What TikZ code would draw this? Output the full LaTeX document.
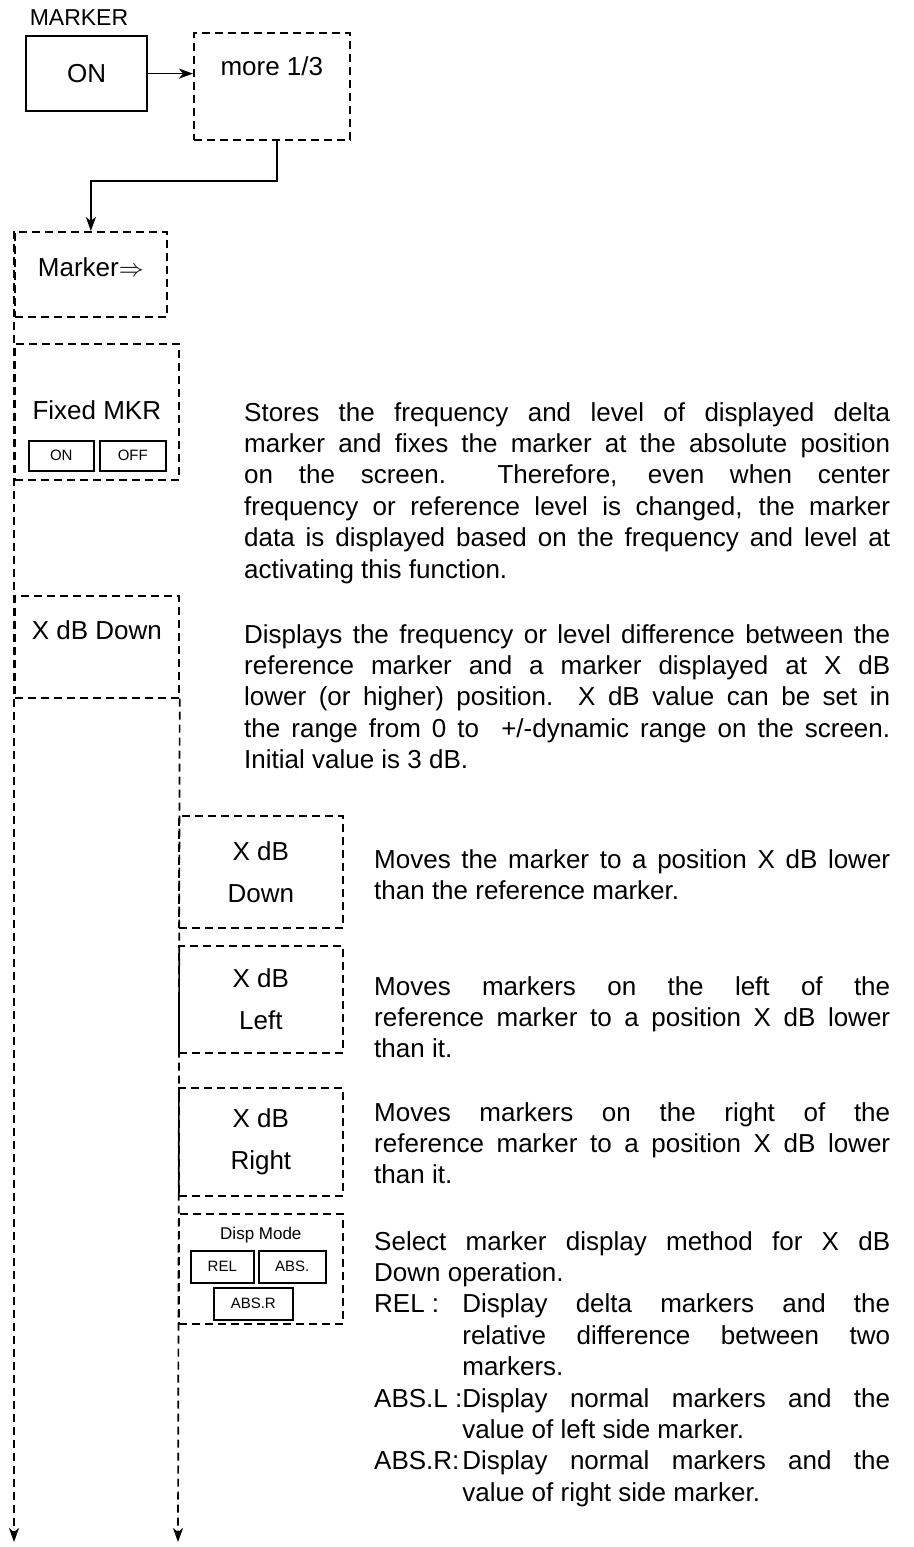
\documentclass[tikz,border=0pt]{standalone}
\usepackage{fontspec}
\setmainfont{Liberation Sans}
\usetikzlibrary{positioning}
\usetikzlibrary{arrows.meta}
\usetikzlibrary{calc}

\newlength{\hangw}

\begin{document}
\begin{tikzpicture}[x=1pt, y=-1pt,
    solidbox/.style={draw=black, line width=2.2pt, rectangle, inner sep=0pt, anchor=north west, font=\fontsize{26}{31}\selectfont},
    dashbox/.style={draw=black, line width=1.7pt, dash pattern=on 8pt off 5pt, rectangle, inner sep=0pt, anchor=north west, align=center, font=\fontsize{26}{42}\selectfont},
    keybox/.style={draw=black, line width=1.6pt, rectangle, inner sep=0pt, anchor=north west, font=\fontsize{15}{15}\selectfont},
    lbl/.style={inner sep=0pt, font=\fontsize{26}{31}\selectfont},
    smalllbl/.style={inner sep=0pt, font=\fontsize{17}{17}\selectfont},
    desc/.style={inner sep=0pt, anchor=base west, align=justify, font=\fontsize{26}{31.4}\selectfont},
    flow/.style={line width=1.7pt, -{Stealth[length=14pt, width=10pt, inset=4pt]}},
    dflow/.style={flow, dash pattern=on 8pt off 5pt}]

  \useasboundingbox (0,0) rectangle (913,1547);

  % MARKER key and first soft key
  \node[lbl, font=\fontsize{23}{23}\selectfont] (title) at (79,18) {MARKER};
  \node[solidbox, minimum width=121pt, minimum height=75pt] (on) at (25,35) {ON};
  \node[dashbox, minimum width=156pt, minimum height=107pt] (more) at (193,32) {};
  \node[lbl] (moretxt) at ([yshift=-34pt]more.north) {more 1/3};

  % Main menu column
  \node[dashbox, minimum width=152pt, minimum height=85pt] (mkr) at (14,231) {};
  \node[lbl] (mkrtxt) at ([yshift=-36pt]mkr.north) {Marker$\Rightarrow$};

  \node[dashbox, minimum width=164pt, minimum height=136pt] (fixed) at (14,343) {};
  \node[lbl] (fixedtxt) at ([yshift=-67pt]fixed.north) {Fixed MKR};
  \node[keybox, minimum width=65pt, minimum height=30pt] (fon) at (28,440) {ON};
  \node[keybox, minimum width=66pt, minimum height=30pt] (foff) at (99,440) {OFF};

  \node[dashbox, minimum width=164pt, minimum height=102pt] (xdb) at (14,595) {};
  \node[lbl] (xdbtxt) at ([yshift=-35pt]xdb.north) {X dB Down};

  % Sub menu column
  \node[dashbox, minimum width=164pt, minimum height=112pt] (sdown) at (178,815) {X dB\\Down};
  \node[dashbox, minimum width=164pt, minimum height=107pt] (sleft) at (178,945) {X dB\\Left};
  \node[dashbox, minimum width=164pt, minimum height=108pt] (sright) at (178,1087) {X dB\\Right};

  \node[dashbox, minimum width=164pt, minimum height=110pt] (disp) at (178,1213) {};
  \node[smalllbl] (disptxt) at ([yshift=-22pt]disp.north) {Disp Mode};
  \node[keybox, minimum width=63pt, minimum height=32pt] (rel) at (190,1250) {REL};
  \node[keybox, minimum width=67pt, minimum height=32pt] (abs) at (258,1250) {ABS.};
  \node[keybox, minimum width=79pt, minimum height=32pt] (absr) at (213,1287) {ABS.R};

  % Free ends of the two columns
  \coordinate (endl) at (14,1542);
  \coordinate (endr) at (178,1542);

  % Connectors
  \draw[flow] (on.east) -- (on.east -| more.west);
  \draw[flow] ([xshift=5pt]more.south) -- ++(0,40) -| (mkr.north);
  \draw[dflow] (mkr.north west) -- (endl);
  \draw[dflow] (xdb.south east) -- (endr);

  % Descriptions
  \node[desc, text width=646pt] (dfixed) at (244,421) {Stores the frequency and level of displayed delta\linebreak
    marker and fixes the marker at the absolute position\linebreak
    on the screen.\ \ Therefore, even when center\linebreak
    frequency or reference level is changed, the marker\linebreak
    data is displayed based on the frequency and level at\linebreak
    activating this function.};

  \node[desc, text width=646pt] (dxdb) at (244,643) {Displays the frequency or level difference between the\linebreak
    reference marker and a marker displayed at X dB\linebreak
    lower (or higher) position.\ \ X dB value can be set in\linebreak
    the range from 0 to \ +/-dynamic range on the screen.\linebreak
    Initial value is 3 dB.};

  \node[desc, text width=516pt] (ddown) at (374,868) {Moves the marker to a position X dB lower\linebreak
    than the reference marker.};

  \node[desc, text width=516pt] (dleft) at (374,995) {Moves markers on the left of the\linebreak
    reference marker to a position X dB lower\linebreak
    than it.};

  \node[desc, text width=516pt] (dright) at (374,1121) {Moves markers on the right of the\linebreak
    reference marker to a position X dB lower\linebreak
    than it.};

  \node[desc, text width=516pt] (ddisp) at (374,1250) {\settowidth{\hangw}{ABS.L :}%
    Select marker display method for X dB\linebreak
    Down operation.\par
    \hangindent=\hangw\hangafter=1\makebox[\hangw][l]{REL :}Display delta markers and the\linebreak
    relative difference between two\linebreak
    markers.\par
    \hangindent=\hangw\hangafter=1\makebox[\hangw][l]{ABS.L :}Display normal markers and the\linebreak
    value of left side marker.\par
    \hangindent=\hangw\hangafter=1\makebox[\hangw][l]{ABS.R:}Display normal markers and the\linebreak
    value of right side marker.\par};

\end{tikzpicture}
\end{document}
